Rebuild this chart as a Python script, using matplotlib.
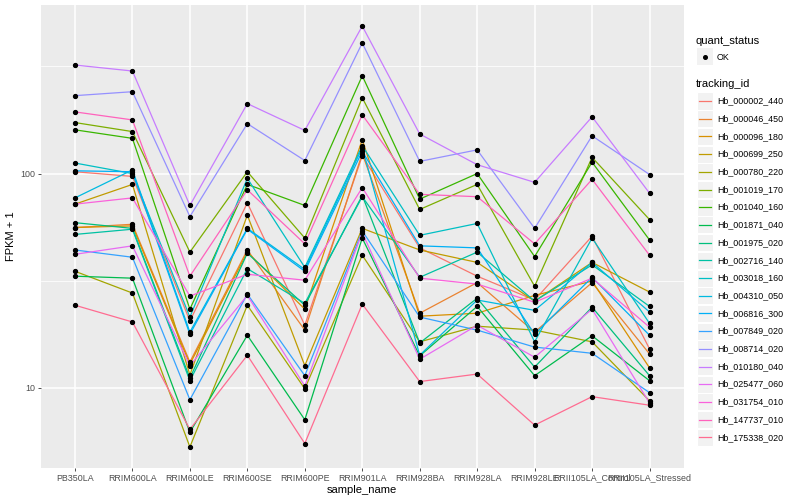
import numpy as np
import matplotlib
matplotlib.use('Agg')
from matplotlib import pyplot as plt
from matplotlib.patches import Rectangle

samples = ['PB350LA', 'RRIM600LA', 'RRIM600LE', 'RRIM600SE', 'RRIM600PE', 'RRIM901LA',
           'RRIM928BA', 'RRIM928LA', 'RRIM928LE', 'RRII105LA_Control', 'RRII105LA_Stressed']

tracking_ids = ['Hb_000002_440', 'Hb_000046_450', 'Hb_000096_180', 'Hb_000699_250',
                'Hb_000780_220', 'Hb_001019_170', 'Hb_001040_160', 'Hb_001871_040',
                'Hb_001975_020', 'Hb_002716_140', 'Hb_003018_160', 'Hb_004310_050',
                'Hb_006816_300', 'Hb_007849_020', 'Hb_008714_020', 'Hb_010180_040',
                'Hb_025477_060', 'Hb_031754_010', 'Hb_147737_010', 'Hb_175338_020']

# ggplot2 hue palette, 20 levels
colors = ['#F8766D', '#EA8331', '#D89000', '#C09B00', '#A3A500', '#7CAE00', '#39B600',
          '#00BB4E', '#00BF7D', '#00C1A3', '#00BFC4', '#00BAE0', '#00B0F6', '#35A2FF',
          '#9590FF', '#C77CFF', '#E76BF3', '#FA62DB', '#FF62BC', '#FF6C91']

# FPKM + 1, one value per sample
hb_000002_440 = [102, 97, 20.5, 73, 19.6, 121, 45, 33.2, 25.7, 51, 15.2]
hb_000046_450 = [56, 58, 13.2, 44, 18.6, 124, 22.3, 31, 18.2, 31, 14.4]
hb_000096_180 = [56, 57, 12.9, 43, 23.3, 144, 21.6, 22.3, 27, 31.5, 12.4]
hb_000699_250 = [72, 89, 11.5, 64, 12.7, 55.5, 44, 38.5, 25.4, 38.5, 28]
hb_000780_220 = [35, 27.7, 5.3, 24.3, 9.9, 41.6, 16.4, 19.4, 18.6, 16.4, 8.7]
hb_001019_170 = [173, 157, 43, 102, 50, 226, 68, 89, 29.8, 119, 61]
hb_001040_160 = [160, 146, 23.3, 89, 71, 286, 76, 100, 41, 113, 49]
hb_001871_040 = [33.2, 32.5, 6.2, 17.6, 7.1, 50, 14.1, 24, 11.4, 17.5, 10.8]
hb_001975_020 = [59, 55.5, 11.1, 42.5, 24.3, 79, 16.2, 26.2, 12.5, 23.8, 11.4]
hb_002716_140 = [52, 55, 10.8, 36, 24.8, 78, 32.8, 43, 25.4, 37.5, 24]
hb_003018_160 = [112, 100, 21.4, 95, 36.5, 135, 51.5, 58.5, 16.4, 50, 20]
hb_004310_050 = [77, 104, 18.2, 55.5, 35.7, 132, 14.2, 25.7, 23, 38.5, 22.6]
hb_006816_300 = [103, 102, 17.8, 55, 35, 127, 46, 45, 17.8, 32.8, 17.6]
hb_007849_020 = [44, 40.7, 8.8, 27.4, 11.4, 54, 21.4, 18.6, 15.5, 14.5, 9.5]
hb_008714_020 = [231, 241, 63, 171, 115, 407, 114, 129, 55.5, 150, 99]
hb_010180_040 = [321, 301, 71, 212, 159, 488, 153, 110, 91, 184, 81]
hb_025477_060 = [42, 46, 12.7, 27, 10.2, 53, 13.6, 19.6, 13.9, 23.3, 8.5]
hb_031754_010 = [72, 77, 26.8, 33.9, 31.8, 86, 32.5, 30.5, 25.1, 32.5, 19.2]
hb_147737_010 = [194, 178, 33.2, 84, 47, 188, 80, 78, 47, 94, 41.6]
hb_175338_020 = [24.3, 20.3, 6.4, 14.2, 5.5, 24.6, 10.7, 11.6, 6.7, 9.1, 8.3]

series = [hb_000002_440, hb_000046_450, hb_000096_180, hb_000699_250, hb_000780_220,
          hb_001019_170, hb_001040_160, hb_001871_040, hb_001975_020, hb_002716_140,
          hb_003018_160, hb_004310_050, hb_006816_300, hb_007849_020, hb_008714_020,
          hb_010180_040, hb_025477_060, hb_031754_010, hb_147737_010, hb_175338_020]

plt.rcParams['font.family'] = ['Liberation Sans', 'DejaVu Sans']

W, H = 800, 500
fig = plt.figure(figsize=(8, 5), dpi=100)
ax = fig.add_axes([40.5 / W, 1 - 468 / H, (684 - 40.5) / W, (468 - 5) / H])
ax.set_facecolor('#EBEBEB')

x = np.arange(1, len(samples) + 1)
for vals, col in zip(series, colors):
    ax.plot(x, vals, color=col, lw=0.9, zorder=2)
for vals in series:
    ax.plot(x, vals, 'o', color='black', ms=2.8, zorder=3)

ax.set_yscale('log')
ax.set_yticks([10, 100])
ax.set_yticklabels(['10', '100'])
ax.set_yticks([10 ** 1.5, 10 ** 2.5], minor=True)
ax.yaxis.set_minor_formatter(plt.NullFormatter())
ax.set_xticks(x)
ax.set_xticklabels(samples)

# ggplot style 5% expansion on the log axis (set after ticks so it sticks)
allv = np.log10(np.concatenate([np.array(v) for v in series]))
lo, hi = allv.min(), allv.max()
pad = (hi - lo) * 0.05
ax.set_ylim(10 ** (lo - pad), 10 ** (hi + pad))
ax.set_xlim(0.4, len(samples) + 0.6)

ax.grid(which='major', color='white', lw=1.1, zorder=0)
ax.grid(which='minor', axis='y', color='white', lw=0.55, zorder=0)
ax.set_axisbelow(True)
for s in ax.spines.values():
    s.set_visible(False)
ax.tick_params(which='major', length=2.5, width=0.6, color='#333333',
               labelsize=6.4, labelcolor='#4D4D4D', pad=1.5)
ax.tick_params(which='minor', length=0)

ax.set_xlabel('sample_name', fontsize=8, color='black', labelpad=2)
ax.set_ylabel('FPKM + 1', fontsize=8, color='black', labelpad=3)

# legends drawn ggplot-style on the right
def fx(px):
    return px / W

def fy(py):
    return 1 - py / H

fig.text(fx(696), fy(41), 'quant_status', fontsize=8, va='center', ha='left')
fig.patches.append(Rectangle((fx(697), fy(65)), 16 / W, 17 / H, facecolor='#F2F2F2',
                             edgecolor='none', transform=fig.transFigure))
fig.lines.append(plt.Line2D([fx(705)], [fy(57)], marker='o', ms=2.6, color='black',
                            transform=fig.transFigure))
fig.text(fx(717), fy(57), 'OK', fontsize=6.4, va='center', ha='left', color='black')

fig.text(fx(696), fy(84), 'tracking_id', fontsize=8, va='center', ha='left')
step = 17.7
for i, (name, col) in enumerate(zip(tracking_ids, colors)):
    cy = 101 + i * step
    fig.patches.append(Rectangle((fx(697), fy(cy + 8.5)), 16 / W, 17 / H,
                                 facecolor='#F2F2F2', edgecolor='white', lw=0.8,
                                 transform=fig.transFigure))
    fig.lines.append(plt.Line2D([fx(699), fx(711)], [fy(cy), fy(cy)], color=col, lw=0.9,
                                transform=fig.transFigure))
    fig.text(fx(717), fy(cy), name, fontsize=6.4, va='center', ha='left', color='black')

fig.savefig('out.png', dpi=100)
